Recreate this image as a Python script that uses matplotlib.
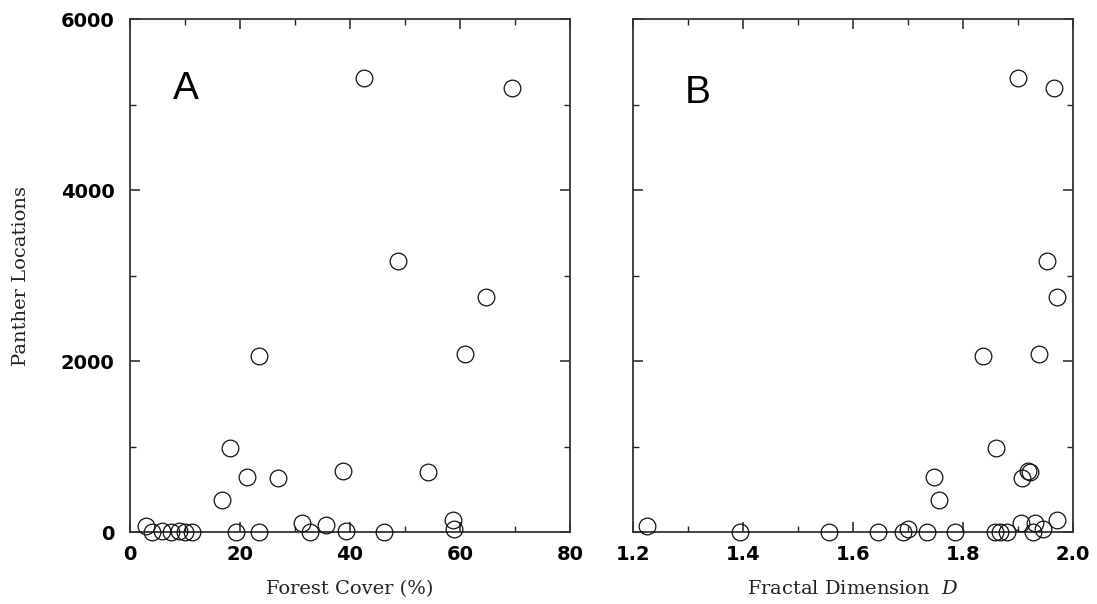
import numpy as np
import matplotlib.pyplot as plt
from matplotlib.ticker import MultipleLocator

plt.rcParams["mathtext.fontset"] = "dejavuserif"

# panel A: forest cover (%) vs panther locations
forest_cover = [42.5, 69.5, 48.7, 64.7, 23.5, 60.9, 18.2, 21.2, 27.0, 16.7,
                38.8, 54.2, 2.9, 4.0, 5.8, 7.5, 9.0, 10.0, 11.2, 19.3,
                23.5, 31.2, 32.7, 35.6, 39.3, 46.2, 58.7, 58.9]
locations_a = [5310, 5190, 3170, 2750, 2060, 2080, 980, 640, 630, 370,
               710, 705, 70, 0, 10, 0, 15, 0, 0, 0,
               0, 105, 0, 80, 10, 0, 140, 30]

# panel B: fractal dimension D vs panther locations
fractal_dim = [1.900, 1.966, 1.953, 1.971, 1.836, 1.938, 1.860, 1.747, 1.756, 1.918,
               1.907, 1.922, 1.225, 1.395, 1.556, 1.645, 1.691, 1.700, 1.735, 1.785,
               1.858, 1.867, 1.880, 1.905, 1.931, 1.927, 1.945, 1.971]
locations_b = [5310, 5190, 3170, 2750, 2060, 2080, 980, 640, 370, 710,
               630, 705, 70, 0, 0, 0, 0, 40, 0, 0,
               0, 0, 0, 105, 100, 0, 30, 140]

fig = plt.figure(figsize=(10.97, 6.04), dpi=100)
ax_a = fig.add_axes([0.1185, 0.1192, 0.4011, 0.8493])
ax_b = fig.add_axes([0.5770, 0.1192, 0.4011, 0.8493], sharey=ax_a)

tick_font = dict(family="DejaVu Sans", weight="bold", size=14)
label_font = dict(family="DejaVu Serif", size=14, color="#222222")

for ax, xs, ys in [(ax_a, forest_cover, locations_a), (ax_b, fractal_dim, locations_b)]:
    ax.plot(xs, ys, "o", ms=12, mfc="none", mec="#111111", mew=0.9, clip_on=False, zorder=3)
    for side in ax.spines.values():
        side.set_linewidth(1.3)
        side.set_color("#333333")
    ax.tick_params(which="both", direction="in", top=True, right=True, color="#222222")
    ax.tick_params(which="major", length=7, width=1.1)
    ax.tick_params(which="minor", length=4, width=1.0)
    ax.tick_params(axis="x", pad=9)
    ax.tick_params(axis="y", pad=11)

ax_a.set_xlim(0, 80)
ax_a.set_ylim(0, 6000)
ax_a.xaxis.set_major_locator(MultipleLocator(20))
ax_a.xaxis.set_minor_locator(MultipleLocator(10))
ax_a.yaxis.set_major_locator(MultipleLocator(2000))
ax_a.yaxis.set_minor_locator(MultipleLocator(1000))

ax_b.set_xlim(1.2, 2.0)
ax_b.xaxis.set_minor_locator(MultipleLocator(0.1))
ax_b.set_xticks([1.2, 1.4, 1.6, 1.8, 2.0])
ax_b.set_xticklabels(["1.2", "1.4", "1.6", "1.8", "2.0"])
ax_b.tick_params(axis="y", labelleft=False)

for ax in (ax_a, ax_b):
    for lab in ax.get_xticklabels() + ax.get_yticklabels():
        lab.set(**tick_font)

ax_a.set_xlabel("Forest Cover (%)", labelpad=12, **label_font)
ax_a.set_ylabel("Panther Locations", labelpad=22, **label_font)
ax_b.set_xlabel(r"Fractal Dimension  $D$", labelpad=12, **label_font)

ax_a.text(0.098, 0.844, "A", transform=ax_a.transAxes, family="Liberation Sans",
          size=28, va="baseline", ha="left")
ax_b.text(0.118, 0.836, "B", transform=ax_b.transAxes, family="Liberation Sans",
          size=28, va="baseline", ha="left")

fig.savefig("out.png", dpi=100)
